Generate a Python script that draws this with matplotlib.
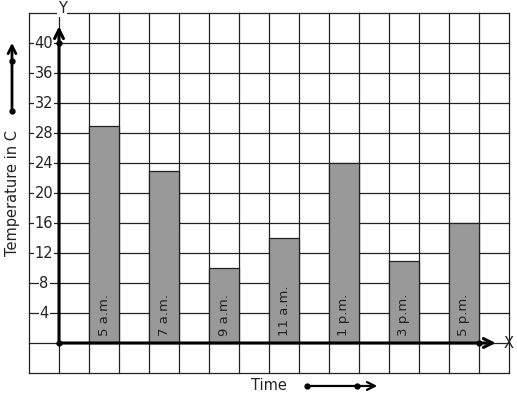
import matplotlib.pyplot as plt
import numpy as np

# data
times = ["5 a.m.", "7 a.m.", "9 a.m.", "11 a.m.", "1 p.m.", "3 p.m.", "5 p.m."]
temps = [29, 23, 10, 14, 24, 11, 16]
bar_pos = [1.5, 3.5, 5.5, 7.5, 9.5, 11.5, 13.5]
y_ticks = [4, 8, 12, 16, 20, 24, 28, 32, 36, 40]

fig = plt.figure(figsize=(5.17, 3.99), dpi=100)
ax = fig.add_axes([0, 0, 1, 1])
ax.set_xlim(-59 / 30, (517 - 59) / 30)
ax.set_ylim((343 - 399) / 7.5, 343 / 7.5)
ax.axis("off")

# graph-paper grid
for gx in range(-1, 16):
    ax.plot([gx, gx], [-4, 44], color="#222222", lw=0.9, zorder=1)
for gy in range(-4, 45, 4):
    ax.plot([-1, 15], [gy, gy], color="#222222", lw=0.9, zorder=1)

# bars
ax.bar(bar_pos, temps, width=1, color="#999999", edgecolor="#222222", lw=0.9, zorder=2)
for x, lab in zip(bar_pos, times):
    ax.text(x, 1.0, lab, rotation=90, ha="center", va="bottom", fontsize=9.5, color="#222222", zorder=3)

# y tick labels
for t in y_ticks:
    ax.text(-0.5, t, str(t), ha="center", va="center", fontsize=10.5, color="#222222",
            bbox=dict(facecolor="white", edgecolor="none", pad=0.6), zorder=3)

# axes with arrows
ax.annotate("", xy=(0, 42.6), xytext=(0, 0),
            arrowprops=dict(arrowstyle="->", lw=2.2, color="black", mutation_scale=16), zorder=4)
ax.annotate("", xy=(14.65, 0), xytext=(0, 0),
            arrowprops=dict(arrowstyle="->", lw=2.2, color="black", mutation_scale=16), zorder=4)
ax.plot([0, 0, 14], [0, 40, 0], "o", color="black", ms=3.5, zorder=5)
ax.text(0.1, 44.6, "Y", ha="center", va="center", fontsize=10.5, color="#222222",
        bbox=dict(facecolor="white", edgecolor="none", pad=0.5), zorder=3)
ax.text(15.0, 0, "X", ha="center", va="center", fontsize=10.5, color="#222222", zorder=3)

# axis titles with direction arrows
ax.text(-1.55, 20, "Temperature in C", rotation=90, ha="center", va="center", fontsize=10.5, color="#222222")
ax.annotate("", xy=(-1.567, 40.4), xytext=(-1.567, 30.93),
            arrowprops=dict(arrowstyle="->", lw=2, color="black", mutation_scale=14))
ax.plot([-1.567, -1.567], [37.6, 30.93], "o", color="black", ms=3.5)

ax.text(7.0, -5.6, "Time", ha="center", va="center", fontsize=10.5, color="#222222")
ax.annotate("", xy=(10.7, -5.73), xytext=(8.27, -5.73),
            arrowprops=dict(arrowstyle="->", lw=1.6, color="black", mutation_scale=14))
ax.plot([8.27, 9.93], [-5.73, -5.73], "o", color="black", ms=3.5)

fig.savefig("out.png", dpi=100)
